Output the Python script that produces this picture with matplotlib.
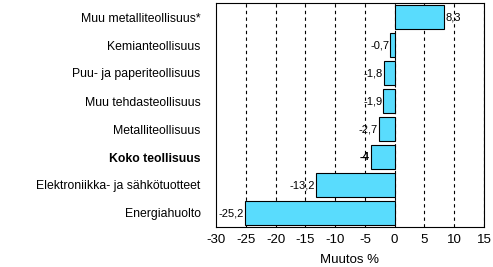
import matplotlib.pyplot as plt
import numpy as np

# Categories, top to bottom as in the chart.
categories = ["Muu metalliteollisuus*", "Kemianteollisuus", "Puu- ja paperiteollisuus",
              "Muu tehdasteollisuus", "Metalliteollisuus", "Koko teollisuus",
              "Elektroniikka- ja sähkötuotteet", "Energiahuolto"]
values = [8.3, -0.7, -1.8, -1.9, -2.7, -4.0, -13.2, -25.2]
value_labels = ["8,3", "-0,7", "-1,8", "-1,9", "-2,7", "-4", "-13,2", "-25,2"]
bold_row = "Koko teollisuus"
xticks = [-30, -25, -20, -15, -10, -5, 0, 5, 10, 15]

plt.rcParams['font.family'] = ['Liberation Sans', 'DejaVu Sans']

fig = plt.figure(figsize=(4.93, 2.67), dpi=100)
ax = fig.add_axes([216 / 493, 1 - 227 / 267, (484 - 216) / 493, (227 - 3) / 267])

y = np.arange(len(categories))[::-1]

# Dashed grid lines behind the bars.
for t in xticks[1:]:
    ax.axvline(t, color="black", linestyle=(0, (3, 3)), linewidth=0.8, zorder=1)

ax.barh(y, values, height=0.85, color="#59dcfd", edgecolor="black", linewidth=0.8, zorder=2)

for yi, v, lab, cat in zip(y, values, value_labels, categories):
    weight = "bold" if cat == bold_row else "normal"
    if v < 0:
        ax.text(v - 0.2, yi, lab, ha="right", va="center", fontsize=8, fontweight=weight, zorder=3)
    else:
        ax.text(v + 0.2, yi, lab, ha="left", va="center", fontsize=8, fontweight=weight, zorder=3)

ax.set_xlim(-30, 15)
ax.set_ylim(-0.5, len(categories) - 0.5)
ax.set_xticks(xticks)
ax.set_xticklabels([str(t) for t in xticks], fontsize=9.5)
ax.set_yticks(y)
ax.set_yticklabels(categories, fontsize=8.8)
for lab in ax.get_yticklabels():
    if lab.get_text() == bold_row:
        lab.set_fontweight("bold")
ax.tick_params(axis="x", length=0, pad=5)
ax.tick_params(axis="y", length=0, pad=11)
ax.set_xlabel("Muutos %", fontsize=9.5, labelpad=6)

for s in ax.spines.values():
    s.set_linewidth(0.8)

fig.savefig("out.png", dpi=100)
